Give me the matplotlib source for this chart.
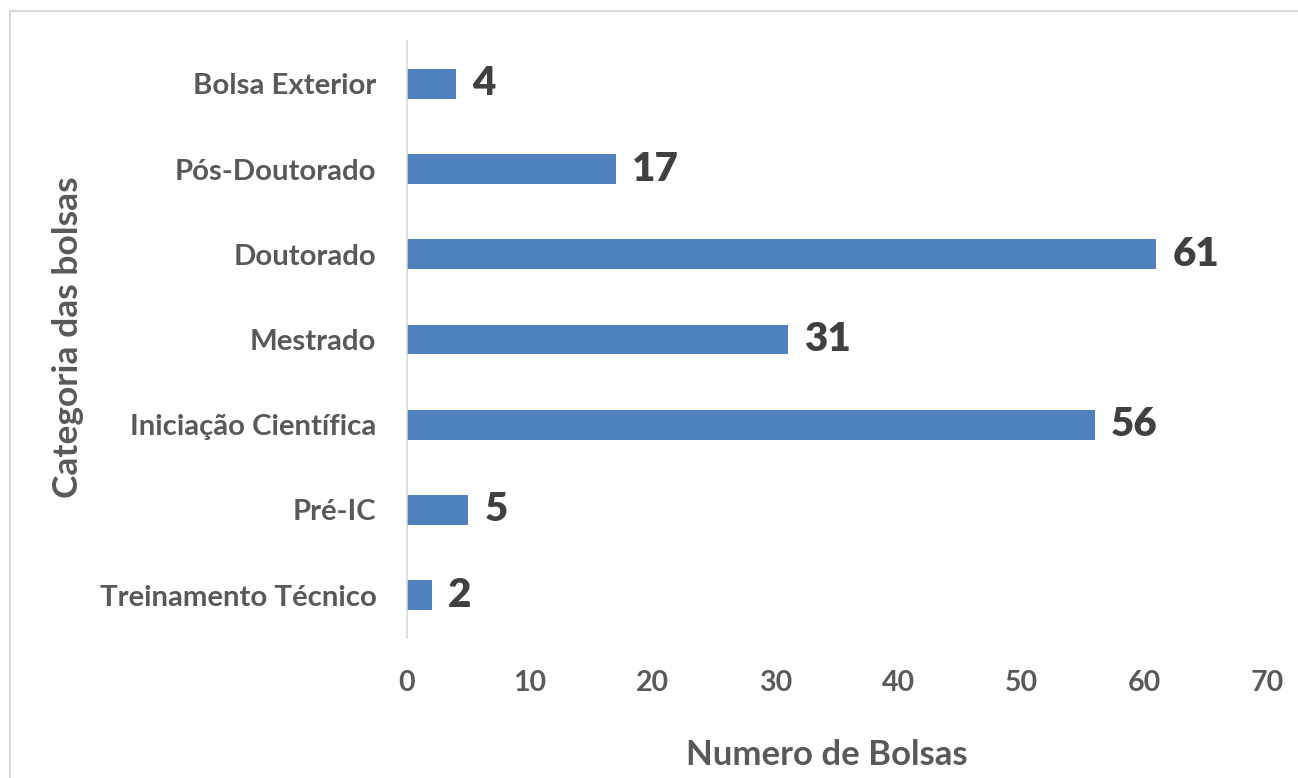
import matplotlib
matplotlib.use("Agg")
import matplotlib.pyplot as plt
from matplotlib.patches import Rectangle

categories = ["Treinamento Técnico", "Pré-IC", "Iniciação Científica", "Mestrado",
              "Doutorado", "Pós-Doutorado", "Bolsa Exterior"]
values = [2, 5, 56, 31, 61, 17, 4]
xticks = [0, 10, 20, 30, 40, 50, 60, 70]

plt.rcParams['font.family'] = ['Lato', 'DejaVu Sans']

W, H = 1298, 778
fig = plt.figure(figsize=(W / 100, H / 100), dpi=100)

# light grey chart frame (cut off at right and bottom)
fig.patches.append(Rectangle((10 / W, -0.05), 1.2, 1 - 11 / H + 0.05,
                             transform=fig.transFigure, fill=False,
                             edgecolor='#d9d9d9', linewidth=1.5))

ax = fig.add_axes([407 / W, 1 - 637.6 / H, (1267 - 407) / W, (637.6 - 41.4) / H])

ypos = range(len(categories))
ax.barh(ypos, values, height=0.35, color='#4f81bd')

for y, v in zip(ypos, values):
    ax.text(v + 1.3, y, str(v), va='center', ha='left', fontsize=29,
            fontweight='heavy', color='#404040')

ax.set_xlim(0, 70)
ax.set_ylim(-0.5, len(categories) - 0.5)
ax.set_xticks(xticks)
ax.set_yticks(list(ypos))
ax.set_yticklabels(categories)

for s in ['top', 'right', 'bottom']:
    ax.spines[s].set_visible(False)
ax.spines['left'].set_color('#d9d9d9')
ax.spines['left'].set_linewidth(1.2)

ax.tick_params(axis='both', length=0, labelcolor='#595959')
ax.tick_params(axis='x', pad=23, labelsize=20.5)
ax.tick_params(axis='y', pad=22, labelsize=21.2)
for lbl in ax.get_xticklabels() + ax.get_yticklabels():
    lbl.set_fontweight('bold')

fig.text(827 / W, 1 - 755 / H, "Numero de Bolsas", ha='center', va='center',
         fontsize=25, fontweight='bold', color='#595959')
fig.text(68 / W, 1 - 337 / H, "Categoria das bolsas", ha='center', va='center',
         rotation=90, fontsize=25.5, fontweight='bold', color='#595959')

fig.savefig("out.png", dpi=100)
